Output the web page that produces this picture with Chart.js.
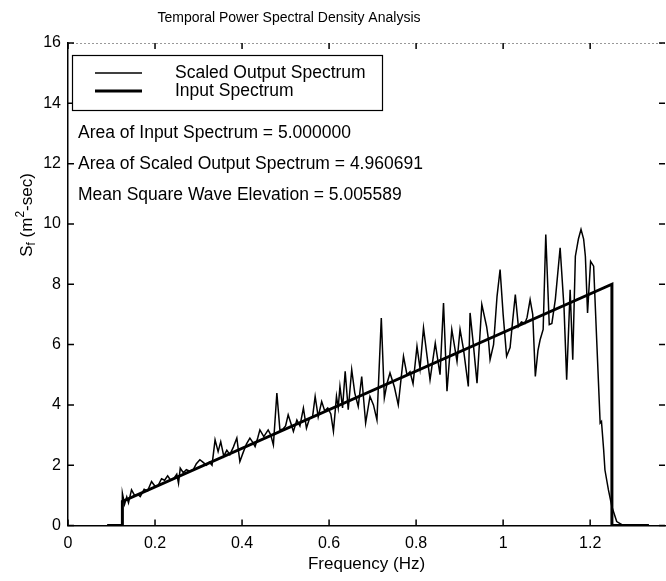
<!DOCTYPE html>
<html>
<head>
<meta charset="utf-8">
<script src="https://cdn.jsdelivr.net/npm/chart.js@4.4.0/dist/chart.umd.min.js"></script>
<style>
  html, body { margin: 0; padding: 0; background: #fff; }
  #wrap { width: 666px; height: 581px; }
</style>
</head>
<body>
<div id="wrap"><canvas id="psdChart" width="666" height="581"></canvas></div>
<script>
// scaled output spectrum
const outputFreq = [
  0.09, 0.121, 0.124, 0.125, 0.13, 0.135, 0.139, 0.146, 0.153, 0.161, 0.166, 0.175, 0.183, 0.192, 0.2,
  0.207, 0.215, 0.222, 0.229, 0.236, 0.243, 0.25, 0.254, 0.258, 0.265, 0.272, 0.28, 0.288, 0.295, 0.303,
  0.31, 0.318, 0.325, 0.331, 0.338, 0.345, 0.351, 0.358, 0.365, 0.372, 0.38, 0.388, 0.395, 0.402, 0.41,
  0.418, 0.425, 0.43, 0.436, 0.441, 0.45, 0.46, 0.466, 0.472, 0.48, 0.487, 0.494, 0.5, 0.506, 0.512,
  0.518, 0.526, 0.533, 0.541, 0.548, 0.555, 0.562, 0.568, 0.575, 0.583, 0.59, 0.597, 0.604, 0.61, 0.617,
  0.621, 0.625, 0.631, 0.637, 0.644, 0.652, 0.659, 0.667, 0.675, 0.684, 0.694, 0.702, 0.71, 0.72, 0.727,
  0.733, 0.74, 0.75, 0.759, 0.771, 0.779, 0.786, 0.793, 0.802, 0.809, 0.817, 0.832, 0.844, 0.855, 0.863,
  0.871, 0.882, 0.894, 0.901, 0.909, 0.92, 0.924, 0.932, 0.94, 0.951, 0.962, 0.966, 0.97, 0.978, 0.986,
  0.993, 1.0, 1.008, 1.016, 1.022, 1.028, 1.035, 1.042, 1.05, 1.055, 1.062, 1.068, 1.074, 1.08, 1.085,
  1.092, 1.098, 1.106, 1.112, 1.12, 1.131, 1.14, 1.146, 1.154, 1.16, 1.166, 1.173, 1.179, 1.185, 1.189,
  1.194, 1.201, 1.208, 1.215, 1.223, 1.226, 1.231, 1.234, 1.242, 1.25, 1.261, 1.276, 1.335
];
const outputValue = [
  0, 0, 0, 1.07, 0.7, 0.95, 0.75, 1.18, 1.0, 1.02, 0.96, 1.2, 1.15, 1.46, 1.3,
  1.32, 1.55, 1.5, 1.65, 1.5, 1.55, 1.7, 1.4, 1.9, 1.75, 1.85, 1.8, 1.85, 2.05, 2.18,
  2.1, 2.0, 2.1, 2.0, 2.84, 2.45, 2.78, 2.3, 2.5, 2.35, 2.6, 2.9, 2.12, 2.4, 2.7,
  2.9, 2.75, 2.62, 2.9, 3.17, 2.95, 3.17, 3.0, 2.67, 4.39, 3.17, 3.2, 3.3, 3.67, 3.4,
  3.12, 3.5, 3.3, 3.89, 3.23, 3.55, 3.6, 4.28, 3.6, 4.11, 3.8, 3.9, 3.7, 3.12, 4.28,
  3.9, 4.61, 3.9, 5.11, 3.84, 5.17, 4.4, 3.95, 4.94, 3.4, 4.28, 4.0, 3.5, 6.88, 4.23,
  4.7, 5.06, 4.6, 4.0, 5.61, 5.0, 5.1, 4.7, 5.94, 5.2, 6.55, 4.83, 6.05, 5.0, 7.38,
  4.45, 6.5, 5.44, 6.5, 5.83, 4.61, 7.05, 5.94, 4.72, 7.33, 6.6, 6.2, 5.5, 6.0, 7.6,
  8.49, 7.0, 5.61, 5.9, 6.8, 7.66, 6.6, 6.75, 6.7, 6.9, 7.49, 7.0, 4.94, 5.8, 6.16,
  6.5, 9.65, 6.66, 6.7, 7.5, 9.21, 7.2, 4.83, 7.82, 5.5, 8.93, 9.5, 9.82, 9.5, 8.93,
  7.05, 8.76, 8.6, 6.16, 3.4, 3.45, 2.51, 1.84, 1.18, 0.62, 0.13, 0, 0
];

// input spectrum
const inputFreq = [0.09, 0.125, 0.125, 1.25, 1.25, 1.335];
const inputValue = [0, 0, 0.8, 8, 0, 0];

const xTicks = [0, 0.2, 0.4, 0.6, 0.8, 1, 1.2];
const yTicks = [0, 2, 4, 6, 8, 10, 12, 14, 16];

const titleText = "Temporal Power Spectral Density Analysis";

const infoLines = [
  "Area of Input Spectrum = 5.000000",
  "Area of Scaled Output Spectrum = 4.960691",
  "Mean Square Wave Elevation = 5.005589"
];

const FONT = "'Liberation Sans', Arial, Helvetica, sans-serif";

function toPoints(xs, ys) {
  return xs.map((x, i) => ({ x: x, y: ys[i] }));
}

// MATLAB style inward ticks on all four sides
const boxTicks = {
  id: "boxTicks",
  afterDraw(chart) {
    const ctx = chart.ctx;
    const area = chart.chartArea;
    const xs = chart.scales.x;
    const ys = chart.scales.y;
    const len = 6;

    ctx.save();

    ctx.strokeStyle = "#999";
    ctx.lineWidth = 1;
    ctx.setLineDash([2, 2]);
    ctx.beginPath();
    ctx.moveTo(area.left, area.top + 0.5);
    ctx.lineTo(area.right, area.top + 0.5);
    ctx.stroke();
    ctx.setLineDash([]);

    ctx.strokeStyle = "#000";
    ctx.lineWidth = 1.5;
    ctx.beginPath();

    xTicks.forEach((v) => {
      const px = xs.getPixelForValue(v);
      ctx.moveTo(px, area.bottom);
      ctx.lineTo(px, area.bottom - len);
      ctx.moveTo(px, area.top);
      ctx.lineTo(px, area.top + len);
    });

    yTicks.forEach((v) => {
      const py = ys.getPixelForValue(v);
      ctx.moveTo(area.left, py);
      ctx.lineTo(area.left + len, py);
      ctx.moveTo(area.right, py);
      ctx.lineTo(area.right - len, py);
    });

    ctx.stroke();
    ctx.restore();
  },
};

// legend box in the top left corner
const boxLegend = {
  id: "boxLegend",
  afterDraw(chart) {
    const ctx = chart.ctx;
    const sets = [chart.data.datasets[1], chart.data.datasets[0]];

    ctx.save();
    ctx.fillStyle = "#fff";
    ctx.fillRect(72, 55, 310, 55);
    ctx.strokeStyle = "#000";
    ctx.lineWidth = 1.2;
    ctx.strokeRect(72.5, 55.5, 310, 55);

    ctx.font = "17.5px " + FONT;
    ctx.textBaseline = "middle";
    ctx.fillStyle = "#000";

    sets.forEach((ds, i) => {
      const y = 73 + i * 18;
      ctx.lineWidth = ds.borderWidth;
      ctx.strokeStyle = ds.borderColor;
      ctx.beginPath();
      ctx.moveTo(95, y);
      ctx.lineTo(142, y);
      ctx.stroke();
      ctx.fillText(ds.label, 175, y);
    });

    ctx.restore();
  },
};

// title, statistics text and rotated y label
const extraText = {
  id: "extraText",
  afterDraw(chart) {
    const ctx = chart.ctx;

    ctx.save();
    ctx.fillStyle = "#000";
    ctx.textBaseline = "middle";

    ctx.font = "14px " + FONT;
    ctx.textAlign = "center";
    ctx.fillText(titleText, 289, 18);
    ctx.textAlign = "left";

    ctx.font = "17.5px " + FONT;
    infoLines.forEach((line, i) => {
      ctx.fillText(line, 78, 133 + i * 31);
    });

    ctx.translate(27, 215);
    ctx.rotate(-Math.PI / 2);

    const parts = [
      { text: "S", size: 17, dy: 0 },
      { text: "f", size: 12, dy: 5 },
      { text: " (m", size: 17, dy: 0 },
      { text: "2", size: 12, dy: -6 },
      { text: "-sec)", size: 17, dy: 0 },
    ];

    let total = 0;
    parts.forEach((p) => {
      ctx.font = p.size + "px " + FONT;
      total += ctx.measureText(p.text).width;
    });

    let x = -total / 2;
    parts.forEach((p) => {
      ctx.font = p.size + "px " + FONT;
      ctx.fillText(p.text, x, p.dy);
      x += ctx.measureText(p.text).width;
    });

    ctx.restore();
  },
};

const chart = new Chart(document.getElementById("psdChart"), {
  type: "scatter",

  data: {
    datasets: [
      {
        label: "Input Spectrum",
        data: toPoints(inputFreq, inputValue),
        showLine: true,
        borderColor: "#000",
        borderWidth: 3,
        pointRadius: 0,
        tension: 0,
      },
      {
        label: "Scaled Output Spectrum",
        data: toPoints(outputFreq, outputValue),
        showLine: true,
        borderColor: "#000",
        borderWidth: 1.5,
        pointRadius: 0,
        tension: 0,
      },
    ],
  },

  options: {
    responsive: false,
    animation: false,
    events: [],

    layout: {
      padding: { left: 0, right: 1, top: 43, bottom: 0 },
    },

    plugins: {
      legend: { display: false },
      tooltip: { enabled: false },
      title: { display: false },
    },

    scales: {
      x: {
        type: "linear",
        min: 0,
        max: 1.372,
        afterBuildTicks: (scale) => {
          scale.ticks = xTicks.map((v) => ({ value: v }));
        },
        afterFit: (scale) => {
          scale.height = 55.5;
        },
        grid: { display: false, drawTicks: false },
        border: { display: true, color: "#000", width: 1.5 },
        ticks: {
          color: "#000",
          padding: 8,
          maxRotation: 0,
          font: { family: FONT, size: 16 },
          callback: (v) => String(Math.round(v * 10) / 10),
        },
        title: {
          display: true,
          text: "Frequency (Hz)",
          color: "#000",
          font: { family: FONT, size: 17 },
          padding: { top: 0, bottom: 6 },
        },
      },
      y: {
        type: "linear",
        min: 0,
        max: 16,
        afterBuildTicks: (scale) => {
          scale.ticks = yTicks.map((v) => ({ value: v }));
        },
        afterFit: (scale) => {
          scale.width = 68;
        },
        grid: { display: false, drawTicks: false },
        border: { display: true, color: "#000", width: 1.5 },
        ticks: {
          color: "#000",
          padding: 7,
          font: { family: FONT, size: 16 },
        },
      },
    },
  },

  plugins: [boxTicks, boxLegend, extraText],
});
</script>
</body>
</html>
